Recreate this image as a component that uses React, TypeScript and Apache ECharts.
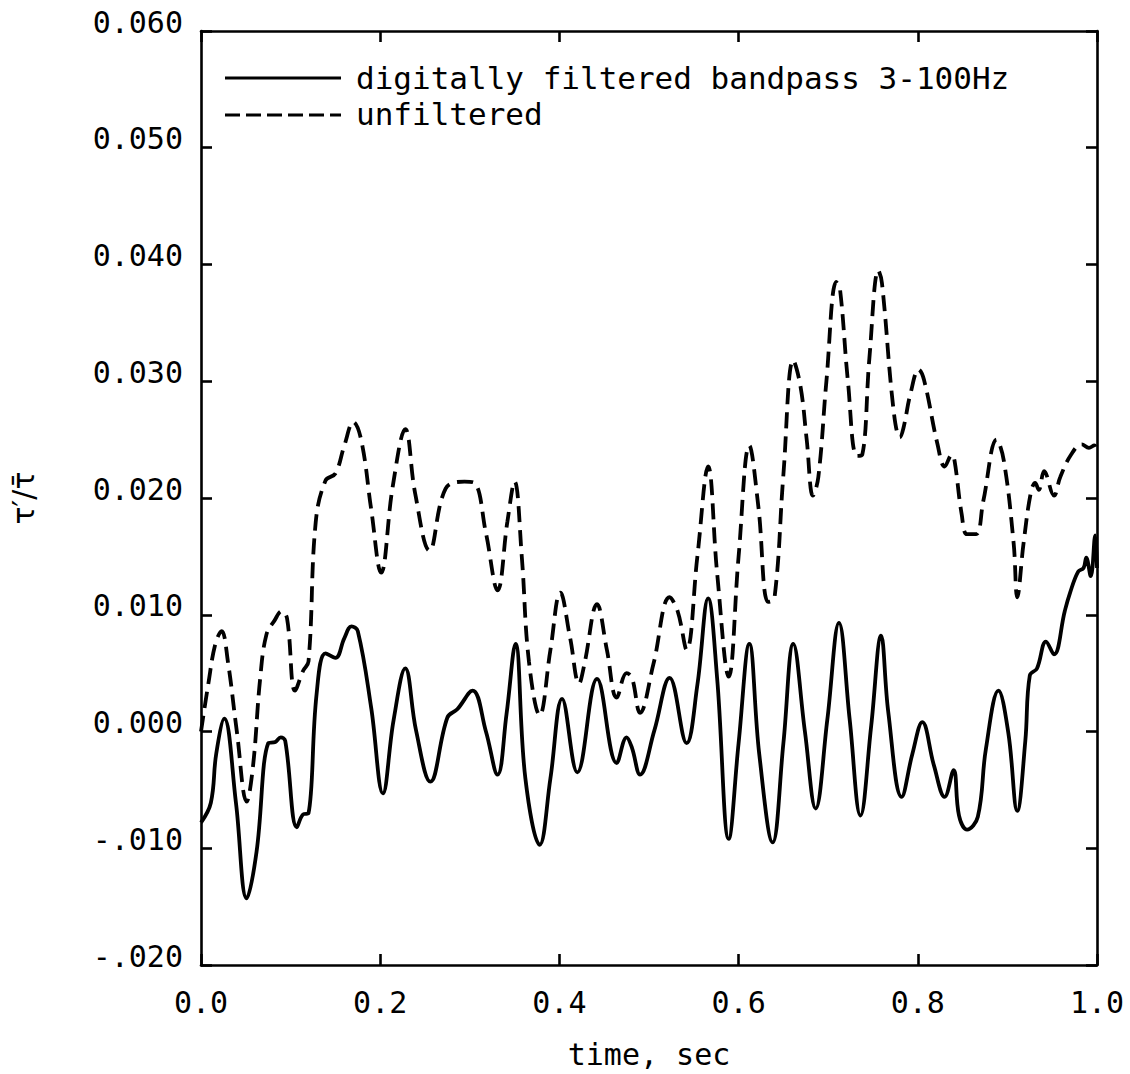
import React, { useEffect, useRef } from "react";
import * as echarts from "echarts";

const FONT = "'DejaVu Sans Mono', 'Liberation Mono', monospace";

const seriesNames = ["digitally filtered bandpass 3-100Hz", "unfiltered"];
const xAxisTitle = "time, sec";
const yAxisTitle = "τ′/τ̄";

const xTickValues = [0, 0.2, 0.4, 0.6, 0.8, 1.0];
const xTickLabels = ["0.0", "0.2", "0.4", "0.6", "0.8", "1.0"];
const yTickValues = [-0.02, -0.01, 0, 0.01, 0.02, 0.03, 0.04, 0.05, 0.06];
const yTickLabels = ["-.020", "-.010", "0.000", "0.010", "0.020", "0.030", "0.040", "0.050", "0.060"];

// filtered (solid) series
const solidT = [
  0.000, 0.011, 0.017, 0.026, 0.039, 0.051, 0.062, 0.075, 0.083, 0.089, 0.094,
  0.107, 0.114, 0.120, 0.129, 0.139, 0.150, 0.160, 0.168, 0.175, 0.190, 0.203,
  0.215, 0.228, 0.240, 0.256, 0.275, 0.286, 0.303, 0.318, 0.331, 0.341, 0.351,
  0.362, 0.378, 0.390, 0.403, 0.420, 0.442, 0.464, 0.475, 0.481, 0.490, 0.506,
  0.523, 0.542, 0.554, 0.566, 0.576, 0.589, 0.600, 0.612, 0.623, 0.638, 0.650,
  0.661, 0.674, 0.686, 0.699, 0.712, 0.724, 0.736, 0.748, 0.759, 0.767, 0.782,
  0.794, 0.805, 0.818, 0.830, 0.840, 0.846, 0.855, 0.867, 0.876, 0.890, 0.901,
  0.911, 0.920, 0.925, 0.933, 0.943, 0.952, 0.964, 0.970, 0.979, 0.985, 0.988,
  0.993, 0.998, 1.000,
];
const solidV = [
  -0.0078, -0.0061, -0.0019, 0.0011, -0.0061, -0.0143, -0.0103, -0.0010, -0.0009, -0.0005, -0.0008,
  -0.0082, -0.0071, -0.0070, 0.0032, 0.0067, 0.0063, 0.0080, 0.0090, 0.0086, 0.0020, -0.0053,
  0.0010, 0.0054, 0.0001, -0.0043, 0.0012, 0.0019, 0.0035, 0.0000, -0.0037, 0.0015, 0.0075,
  -0.0040, -0.0097, -0.0040, 0.0028, -0.0035, 0.0045, -0.0027, -0.0005, -0.0014, -0.0037, 0.0001,
  0.0046, -0.0010, 0.0040, 0.0114, 0.0046, -0.0092, -0.0010, 0.0075, -0.0019, -0.0095, -0.0010,
  0.0075, 0.0000, -0.0066, 0.0010, 0.0093, 0.0010, -0.0072, 0.0005, 0.0082, 0.0017, -0.0056,
  -0.0019, 0.0008, -0.0029, -0.0056, -0.0033, -0.0072, -0.0084, -0.0073, -0.0015, 0.0035, -0.0001,
  -0.0068, -0.0008, 0.0048, 0.0054, 0.0077, 0.0066, 0.0103, 0.0119, 0.0137, 0.0140, 0.0149,
  0.0133, 0.0168, 0.0140,
];

// unfiltered (dashed) series
const dashedT = [
  0.000, 0.008, 0.016, 0.023, 0.030, 0.040, 0.051, 0.058, 0.066, 0.073, 0.082,
  0.090, 0.096, 0.105, 0.114, 0.120, 0.128, 0.139, 0.150, 0.160, 0.170, 0.179,
  0.190, 0.201, 0.214, 0.228, 0.239, 0.255, 0.273, 0.294, 0.305, 0.318, 0.331,
  0.342, 0.350, 0.358, 0.366, 0.378, 0.390, 0.401, 0.412, 0.422, 0.428, 0.442,
  0.453, 0.464, 0.475, 0.481, 0.490, 0.505, 0.523, 0.532, 0.542, 0.554, 0.566,
  0.576, 0.589, 0.600, 0.612, 0.622, 0.633, 0.640, 0.650, 0.661, 0.669, 0.676,
  0.683, 0.689, 0.698, 0.709, 0.713, 0.722, 0.732, 0.738, 0.746, 0.756, 0.760,
  0.773, 0.780, 0.784, 0.792, 0.801, 0.807, 0.822, 0.830, 0.838, 0.841, 0.849,
  0.855, 0.865, 0.873, 0.888, 0.896, 0.907, 0.911, 0.918, 0.926, 0.931, 0.935,
  0.941, 0.952, 0.959, 0.971, 0.983, 0.991, 0.997, 1.000,
];
const dashedV = [
  0.0000, 0.0040, 0.0075, 0.0086, 0.0060, 0.0000, -0.0060, -0.0030, 0.0045, 0.0083, 0.0095,
  0.0103, 0.0097, 0.0035, 0.0052, 0.0060, 0.0179, 0.0215, 0.0221, 0.0245, 0.0265, 0.0249,
  0.0190, 0.0136, 0.0210, 0.0259, 0.0204, 0.0155, 0.0208, 0.0214, 0.0213, 0.0170, 0.0121,
  0.0180, 0.0214, 0.0150, 0.0060, 0.0014, 0.0070, 0.0119, 0.0080, 0.0041, 0.0058, 0.0109,
  0.0070, 0.0029, 0.0050, 0.0046, 0.0016, 0.0058, 0.0115, 0.0103, 0.0070, 0.0150, 0.0227,
  0.0136, 0.0047, 0.0150, 0.0245, 0.0193, 0.0111, 0.0114, 0.0220, 0.0318, 0.0296, 0.0250,
  0.0202, 0.0218, 0.0300, 0.0385, 0.0380, 0.0300, 0.0236, 0.0237, 0.0320, 0.0395, 0.0384,
  0.0275, 0.0252, 0.0260, 0.0290, 0.0310, 0.0301, 0.0246, 0.0227, 0.0237, 0.0232, 0.0186,
  0.0169, 0.0169, 0.0197, 0.0250, 0.0232, 0.0161, 0.0115, 0.0161, 0.0204, 0.0213, 0.0207,
  0.0223, 0.0202, 0.0218, 0.0237, 0.0246, 0.0243, 0.0245, 0.0240,
];

function labelFor(values: number[], labels: string[], v: number) {
  let best = 0;
  for (let i = 1; i < values.length; i++) {
    if (Math.abs(values[i] - v) < Math.abs(values[best] - v)) best = i;
  }
  return labels[best];
}

export default function App() {
  const ref = useRef<HTMLDivElement>(null);
  useEffect(() => {
    if (!ref.current) return;
    const chart = echarts.init(ref.current, undefined, { renderer: "svg" });
    const axisLine = { show: true, onZero: false, lineStyle: { color: "#000", width: 2.6 } };
    const axisTick = { show: true, inside: true, length: 11, lineStyle: { color: "#000", width: 2.6 } };
    const solidData = solidT.map((t, i) => [t, solidV[i]]);
    const dashedData = dashedT.map((t, i) => [t, dashedV[i]]);
    const solidStyle = { color: "#000", width: 3.8, type: "solid" as const };
    const dashedStyle = { color: "#000", width: 3.8, type: [16, 8] };
    chart.setOption({
      animation: false,
      backgroundColor: "#fff",
      grid: { left: 197, right: 33, top: 31, bottom: 96, containLabel: false },
      graphic: [
        {
          type: "line",
          shape: { x1: 225, y1: 78, x2: 341, y2: 78 },
          style: { stroke: "#000", lineWidth: 3 },
        },
        {
          type: "text",
          x: 356,
          y: 78,
          style: {
            text: seriesNames[0],
            fontFamily: FONT,
            fontSize: 31,
            fill: "#000",
            verticalAlign: "middle",
            align: "left",
          },
        },
        {
          type: "line",
          shape: { x1: 225, y1: 115, x2: 341, y2: 115 },
          style: { stroke: "#000", lineWidth: 3, lineDash: [15, 6] },
        },
        {
          type: "text",
          x: 356,
          y: 114,
          style: {
            text: seriesNames[1],
            fontFamily: FONT,
            fontSize: 31,
            fill: "#000",
            verticalAlign: "middle",
            align: "left",
          },
        },
      ],
      xAxis: [
        {
          type: "value",
          min: 0,
          max: 1,
          interval: 0.2,
          position: "bottom",
          axisLine,
          axisTick,
          splitLine: { show: false },
          axisLabel: {
            fontFamily: FONT,
            fontSize: 30,
            color: "#000",
            margin: 22,
            formatter: (v: number) => labelFor(xTickValues, xTickLabels, v),
          },
          name: xAxisTitle,
          nameLocation: "middle",
          nameGap: 74,
          nameTextStyle: { fontFamily: FONT, fontSize: 30, color: "#000" },
        },
        {
          type: "value",
          min: 0,
          max: 1,
          interval: 0.2,
          position: "top",
          axisLine,
          axisTick,
          splitLine: { show: false },
          axisLabel: { show: false },
        },
      ],
      yAxis: [
        {
          type: "value",
          min: -0.02,
          max: 0.06,
          interval: 0.01,
          position: "left",
          axisLine,
          axisTick,
          splitLine: { show: false },
          axisLabel: {
            fontFamily: FONT,
            fontSize: 30,
            color: "#000",
            margin: 18,
            verticalAlign: "bottom",
            lineHeight: 18,
            formatter: (v: number) => labelFor(yTickValues, yTickLabels, v),
          },
          name: yAxisTitle,
          nameLocation: "middle",
          nameRotate: 90,
          nameGap: 163,
          nameTextStyle: { fontFamily: "'DejaVu Sans', 'Noto Sans', sans-serif", fontSize: 30, color: "#000" },
        },
        {
          type: "value",
          min: -0.02,
          max: 0.06,
          interval: 0.01,
          position: "right",
          axisLine,
          axisTick,
          splitLine: { show: false },
          axisLabel: { show: false },
        },
      ],
      series: [
        {
          name: seriesNames[0],
          type: "line",
          data: solidData,
          showSymbol: false,
          symbol: "none",
          smooth: 0.4,
          lineStyle: solidStyle,
          itemStyle: { color: "#000" },
        },
        {
          name: seriesNames[1],
          type: "line",
          data: dashedData,
          showSymbol: false,
          symbol: "none",
          smooth: 0.4,
          lineStyle: dashedStyle,
          itemStyle: { color: "#000" },
        },
      ],
    });
    return () => chart.dispose();
  }, []);
  return (
    <div
      ref={ref}
      style={{ position: "fixed", left: 0, top: 0, width: 1130, height: 1074, background: "#fff" }}
    />
  );
}
